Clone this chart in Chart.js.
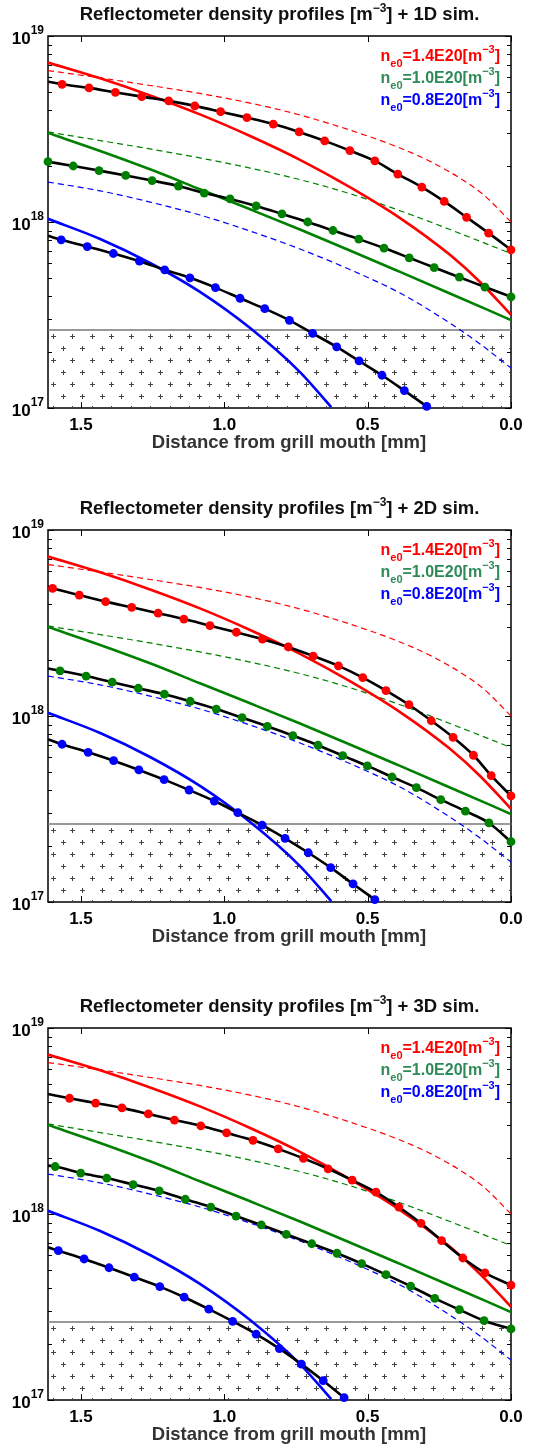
<!DOCTYPE html>
<html>
<head>
<meta charset="utf-8">
<script src="https://cdn.jsdelivr.net/npm/chart.js@4.4.1/dist/chart.umd.min.js"></script>
<style>
    body { margin: 0; background: #fff; width: 539px; height: 1449px; position: relative; overflow: hidden; }
    .panel { position: absolute; left: 0; width: 539px; height: 460px; }
</style>
</head>
<body>
<div class="panel" style="top:0"><canvas id="c1" width="539" height="460"></canvas></div>
<div class="panel" style="top:494px"><canvas id="c2" width="539" height="460"></canvas></div>
<div class="panel" style="top:992px"><canvas id="c3" width="539" height="460"></canvas></div>
<script>
// axis / labels
const distMax = 1.615;
const distTicks = [1.5, 1.0, 0.5, 0.0];
const decadeExponents = [17, 18, 19];
const cutoffDensity = 2.63e17;
const simLabels = ['1D', '2D', '3D'];
const legendDensities = ['1.4E20', '1.0E20', '0.8E20'];

// reflectometer profiles (same in every panel), x in mm, density in m^-3
const redSolidX = [1.615, 1.433, 1.259, 1.085, 0.910, 0.736, 0.562, 0.387, 0.213, 0.108, 0];
const redSolidY = [7.20e18, 5.92e18, 4.79e18, 3.79e18, 2.90e18, 2.16e18, 1.54e18, 1.05e18, 6.66e17, 4.76e17, 3.17e17];
const greenSolidX = [1.615, 1.433, 1.259, 1.085, 0.910, 0.736, 0.562, 0.387, 0.213, 0];
const greenSolidY = [3.01e18, 2.41e18, 1.92e18, 1.50e18, 1.17e18, 9.11e17, 7.03e17, 5.39e17, 4.13e17, 2.97e17];
const blueSolidX = [1.615, 1.433, 1.259, 1.085, 0.910, 0.736, 0.627];
const blueSolidY = [1.04e18, 8.10e17, 6.02e17, 4.21e17, 2.69e17, 1.56e17, 1.01e17];

// dashed profiles
const redDashX = [1.615, 1.433, 1.259, 1.085, 0.910, 0.736, 0.562, 0.387, 0.272, 0.178, 0.098, 0];
const redDashY = [6.52e18, 5.95e18, 5.42e18, 4.91e18, 4.36e18, 3.76e18, 3.12e18, 2.50e18, 2.08e18, 1.72e18, 1.41e18, 1.00e18];
const greenDashX = [1.615, 1.433, 1.259, 1.085, 0.910, 0.736, 0.562, 0.387, 0.213, 0];
const greenDashY = [3.05e18, 2.74e18, 2.47e18, 2.21e18, 1.95e18, 1.69e18, 1.42e18, 1.15e18, 9.11e17, 6.77e17];
const blueDashX = [1.615, 1.433, 1.259, 1.085, 0.910, 0.736, 0.562, 0.387, 0.213, 0.108, 0];
const blueDashY = [1.64e18, 1.47e18, 1.28e18, 1.09e18, 8.94e17, 7.16e17, 5.55e17, 4.15e17, 2.86e17, 2.21e17, 1.64e17];

// 1D sim
const sim1RedX = [1.615, 1.566, 1.472, 1.380, 1.288, 1.194, 1.103, 1.013, 0.921, 0.829, 0.739, 0.650, 0.562, 0.475, 0.395, 0.311, 0.233, 0.155, 0.078, 0];
const sim1RedY = [5.68e18, 5.50e18, 5.26e18, 4.98e18, 4.72e18, 4.48e18, 4.21e18, 3.92e18, 3.64e18, 3.36e18, 3.05e18, 2.73e18, 2.42e18, 2.13e18, 1.81e18, 1.54e18, 1.29e18, 1.06e18, 8.71e17, 7.09e17];
const sim1GreenX = [1.615, 1.527, 1.437, 1.344, 1.252, 1.160, 1.070, 0.980, 0.889, 0.799, 0.709, 0.621, 0.531, 0.443, 0.355, 0.268, 0.180, 0.091, 0];
const sim1GreenY = [2.11e18, 2.00e18, 1.89e18, 1.78e18, 1.67e18, 1.56e18, 1.43e18, 1.33e18, 1.22e18, 1.106e18, 1.00e18, 9.00e17, 8.09e17, 7.24e17, 6.42e17, 5.69e17, 5.05e17, 4.47e17, 3.96e17];
const sim1BlueX = [1.615, 1.569, 1.478, 1.387, 1.296, 1.208, 1.120, 1.031, 0.945, 0.859, 0.773, 0.692, 0.608, 0.530, 0.450, 0.372, 0.294];
const sim1BlueY = [8.43e17, 8.02e17, 7.38e17, 6.77e17, 6.16e17, 5.53e17, 5.01e17, 4.44e17, 3.89e17, 3.42e17, 2.96e17, 2.52e17, 2.13e17, 1.79e17, 1.50e17, 1.24e17, 1.02e17];

// 2D sim
const sim2RedX = [1.615, 1.599, 1.506, 1.414, 1.323, 1.231, 1.141, 1.050, 0.958, 0.867, 0.777, 0.690, 0.602, 0.517, 0.436, 0.356, 0.278, 0.202, 0.131, 0.069, 0];
const sim2RedY = [4.96e18, 4.86e18, 4.47e18, 4.12e18, 3.84e18, 3.57e18, 3.32e18, 3.06e18, 2.82e18, 2.59e18, 2.35e18, 2.10e18, 1.86e18, 1.61e18, 1.37e18, 1.15e18, 9.43e17, 7.68e17, 6.15e17, 4.78e17, 3.72e17];
const sim2GreenX = [1.615, 1.573, 1.482, 1.391, 1.300, 1.209, 1.119, 1.028, 0.938, 0.850, 0.761, 0.673, 0.587, 0.501, 0.415, 0.330, 0.245, 0.159, 0.077, 0];
const sim2GreenY = [1.80e18, 1.75e18, 1.64e18, 1.52e18, 1.41e18, 1.31e18, 1.20e18, 1.09e18, 9.79e17, 8.80e17, 7.84e17, 6.96e17, 6.12e17, 5.39e17, 4.70e17, 4.12e17, 3.55e17, 3.08e17, 2.66e17, 2.11e17];
const sim2BlueX = [1.615, 1.566, 1.475, 1.386, 1.298, 1.210, 1.123, 1.035, 0.953, 0.868, 0.788, 0.707, 0.629, 0.551, 0.475];
const sim2BlueY = [7.50e17, 7.05e17, 6.38e17, 5.75e17, 5.13e17, 4.55e17, 4.00e17, 3.49e17, 3.02e17, 2.59e17, 2.20e17, 1.84e17, 1.53e17, 1.25e17, 1.03e17];

// 3D sim
const sim3RedX = [1.615, 1.540, 1.449, 1.357, 1.265, 1.174, 1.082, 0.992, 0.900, 0.812, 0.724, 0.638, 0.554, 0.471, 0.391, 0.314, 0.242, 0.168, 0.091, 0];
const sim3RedY = [4.42e18, 4.19e18, 3.95e18, 3.72e18, 3.45e18, 3.20e18, 2.98e18, 2.73e18, 2.49e18, 2.24e18, 1.99e18, 1.75e18, 1.52e18, 1.31e18, 1.09e18, 8.91e17, 7.19e17, 5.80e17, 4.82e17, 4.15e17];
const sim3GreenX = [1.615, 1.590, 1.501, 1.410, 1.318, 1.227, 1.136, 1.047, 0.959, 0.871, 0.784, 0.695, 0.607, 0.521, 0.436, 0.350, 0.266, 0.180, 0.094, 0];
const sim3GreenY = [1.82e18, 1.80e18, 1.66e18, 1.56e18, 1.44e18, 1.33e18, 1.20e18, 1.09e18, 9.75e17, 8.73e17, 7.78e17, 6.92e17, 6.15e17, 5.41e17, 4.72e17, 4.09e17, 3.52e17, 3.06e17, 2.67e17, 2.41e17];
const sim3BlueX = [1.615, 1.579, 1.489, 1.402, 1.314, 1.225, 1.140, 1.054, 0.971, 0.889, 0.808, 0.731, 0.655, 0.582];
const sim3BlueY = [6.62e17, 6.35e17, 5.73e17, 5.14e17, 4.58e17, 4.07e17, 3.57e17, 3.08e17, 2.65e17, 2.26e17, 1.89e17, 1.56e17, 1.27e17, 1.03e17];

// first point of a sim curve sits on the left axis; only panel 1 green has a dot there
const edgeHasMarker = [[false, true, false], [false, false, false], [false, false, false]];

const lineColors = ['#ff0000', '#008000', '#0000ff'];
const legendColors = ['#ff0000', '#2e8b57', '#0000ff'];
const FONT = "'Liberation Sans', Arial, Helvetica, sans-serif";
Chart.defaults.font.family = FONT;

const solidSets = [[redSolidX, redSolidY], [greenSolidX, greenSolidY], [blueSolidX, blueSolidY]];
const dashSets = [[redDashX, redDashY], [greenDashX, greenDashY], [blueDashX, blueDashY]];
const simSets = [
    [[sim1RedX, sim1RedY], [sim1GreenX, sim1GreenY], [sim1BlueX, sim1BlueY]],
    [[sim2RedX, sim2RedY], [sim2GreenX, sim2GreenY], [sim2BlueX, sim2BlueY]],
    [[sim3RedX, sim3RedY], [sim3GreenX, sim3GreenY], [sim3BlueX, sim3BlueY]]
];

function pts(xs, ys) {
    return xs.map((x, i) => ({ x, y: ys[i] }));
}

function makeHatch(ctx) {
    const tile = document.createElement('canvas');
    tile.width = 39;
    tile.height = 24;
    const g = tile.getContext('2d');
    g.strokeStyle = '#444';
    g.lineWidth = 1;
    [[5, 18], [24, 18], [15, 6], [34, 6]].forEach(([px, py]) => {
        g.beginPath();
        g.moveTo(px - 2, py + 0.5); g.lineTo(px + 3, py + 0.5);
        g.moveTo(px + 0.5, py - 2); g.lineTo(px + 0.5, py + 3);
        g.stroke();
    });
    return ctx.createPattern(tile, 'repeat');
}

// text made of normal / raised / lowered pieces
function drawRich(ctx, parts, x, y, align, color) {
    const widths = parts.map(p => {
        ctx.font = `bold ${p.size}px ${FONT}`;
        return ctx.measureText(p.text).width;
    });
    const total = widths.reduce((s, w) => s + w, 0);
    let cx = align === 'right' ? x - total : align === 'center' ? x - total / 2 : x;
    ctx.fillStyle = color;
    parts.forEach((p, i) => {
        ctx.font = `bold ${p.size}px ${FONT}`;
        ctx.fillText(p.text, cx, y + (p.dy || 0));
        cx += widths[i];
    });
}

function makeChart(p) {
    const canvas = document.getElementById('c' + (p + 1));
    const hatch = makeHatch(canvas.getContext('2d'));
    const datasets = [];

    simSets[p].forEach(([xs, ys], k) => datasets.push({
        data: pts(xs, ys),
        showLine: true,
        borderColor: '#000',
        borderWidth: 2.6,
        cubicInterpolationMode: 'monotone',
        pointRadius: c => (c.dataIndex === 0 && !edgeHasMarker[p][k]) ? 0 : 4.4,
        pointBackgroundColor: lineColors[k],
        pointBorderWidth: 0,
        clip: false,
        order: 1
    }));
    solidSets.forEach(([xs, ys], k) => datasets.push({
        data: pts(xs, ys),
        showLine: true,
        borderColor: lineColors[k],
        borderWidth: 2.6,
        cubicInterpolationMode: 'monotone',
        pointRadius: 0,
        order: 2
    }));
    dashSets.forEach(([xs, ys], k) => datasets.push({
        data: pts(xs, ys),
        showLine: true,
        borderColor: lineColors[k],
        borderWidth: 1.2,
        borderDash: [6, 4],
        cubicInterpolationMode: 'monotone',
        pointRadius: 0,
        order: 3
    }));
    // region below cutoff density
    datasets.push({
        data: [{ x: distMax, y: cutoffDensity }, { x: 0, y: cutoffDensity }],
        showLine: true,
        borderColor: '#777',
        borderWidth: 1.5,
        pointRadius: 0,
        fill: 'start',
        backgroundColor: hatch,
        order: 4
    });

    const decor = {
        id: 'decor',
        beforeDatasetsDraw(chart) {
            const { ctx, chartArea: a, scales: { x, y } } = chart;
            hatch.setTransform(new DOMMatrix([1, 0, 0, 1, a.left, a.bottom - 18]));
            ctx.save();
            ctx.strokeStyle = '#000';
            ctx.lineWidth = 1.5;
            ctx.strokeRect(a.left, a.top, a.right - a.left, a.bottom - a.top);
            ctx.lineWidth = 1;
            ctx.beginPath();
            decadeExponents.forEach(e => {
                for (let m = 1; m <= 9; m++) {
                    const v = m * Math.pow(10, e);
                    if (v > 1e19) break;
                    const py = Math.round(y.getPixelForValue(v)) + 0.5;
                    const len = m === 1 ? 6 : 4;
                    ctx.moveTo(a.left, py); ctx.lineTo(a.left + len, py);
                    ctx.moveTo(a.right, py); ctx.lineTo(a.right - len, py);
                }
            });
            distTicks.forEach(v => {
                const px = Math.round(x.getPixelForValue(v)) + 0.5;
                ctx.moveTo(px, a.bottom); ctx.lineTo(px, a.bottom - 6);
                ctx.moveTo(px, a.top); ctx.lineTo(px, a.top + 6);
            });
            ctx.stroke();
            ctx.restore();
        },
        afterDraw(chart) {
            const { ctx, chartArea: a, scales: { y } } = chart;
            ctx.save();
            ctx.textAlign = 'left';
            ctx.textBaseline = 'alphabetic';
            drawRich(ctx, [
                { text: 'Reflectometer density profiles [m', size: 18.5 },
                { text: '\u22123', size: 12, dy: -8 },
                { text: '] + ' + simLabels[p] + ' sim.', size: 18.5 }
            ], (a.left + a.right) / 2, a.top - 16, 'center', '#111');

            legendDensities.forEach((d, k) => drawRich(ctx, [
                { text: 'n', size: 16 },
                { text: 'e0', size: 11, dy: 6 },
                { text: '=' + d + '[m', size: 16 },
                { text: '\u22123', size: 11, dy: -8 },
                { text: ']', size: 16 }
            ], a.right - 11, a.top + 25 + 22 * k, 'right', legendColors[k]));

            decadeExponents.forEach(e => {
                const py = y.getPixelForValue(Math.pow(10, e));
                ctx.font = `bold 12px ${FONT}`;
                const ew = ctx.measureText(String(e)).width;
                ctx.fillStyle = '#000';
                ctx.fillText(String(e), a.left - 4 - ew, py - 2.5);
                ctx.font = `bold 17px ${FONT}`;
                const bw = ctx.measureText('10').width;
                ctx.fillText('10', a.left - 4 - ew - bw, py + 8);
            });

            drawRich(ctx, [{ text: 'Distance from grill mouth [mm]', size: 18.5 }],
                (a.left + a.right) / 2 + 9.5, a.bottom + 40, 'center', '#333');
            ctx.restore();
        }
    };

    new Chart(canvas, {
        type: 'scatter',
        data: { datasets },
        options: {
            responsive: false,
            animation: false,
            events: [],
            layout: { padding: { top: 36, right: 28, left: 0, bottom: 0 } },
            plugins: { legend: { display: false }, tooltip: { enabled: false } },
            scales: {
                x: {
                    type: 'linear',
                    reverse: true,
                    min: 0,
                    max: distMax,
                    grid: { display: false, drawTicks: false },
                    border: { display: false },
                    afterBuildTicks: s => { s.ticks = distTicks.map(v => ({ value: v })); },
                    afterFit: s => { s.height = 52; },
                    ticks: {
                        autoSkip: false,
                        maxRotation: 0,
                        padding: 7,
                        color: '#000',
                        font: { size: 17, weight: 'bold' },
                        callback: v => Number(v).toFixed(1)
                    }
                },
                y: {
                    type: 'logarithmic',
                    min: 1e17,
                    max: 1e19,
                    grid: { display: false, drawTicks: false },
                    border: { display: false },
                    ticks: { display: false },
                    afterFit: s => { s.width = 48; }
                }
            }
        },
        plugins: [decor]
    });
}

[0, 1, 2].forEach(makeChart);
</script>
</body>
</html>
